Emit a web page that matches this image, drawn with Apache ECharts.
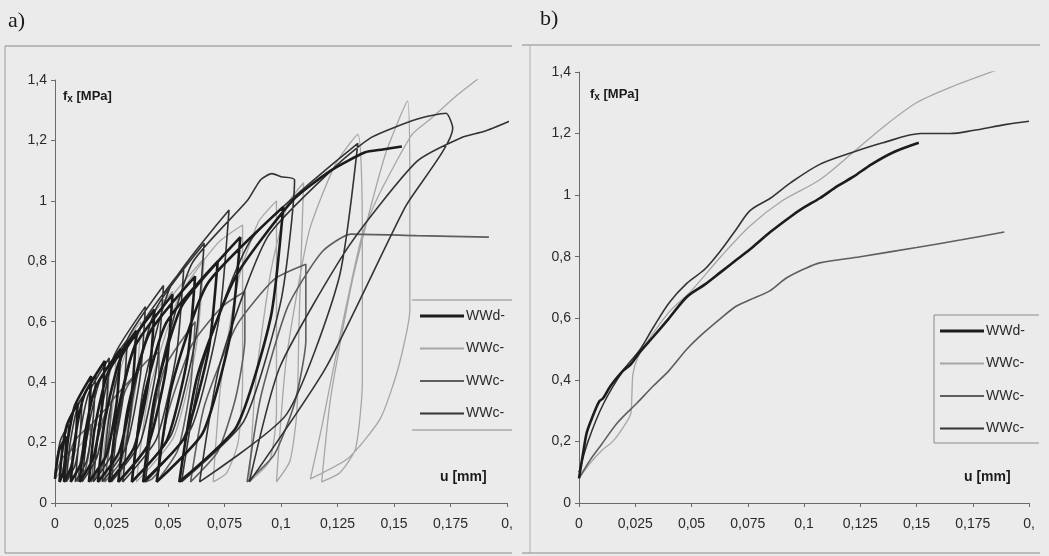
<!DOCTYPE html>
<html><head><meta charset="utf-8">
<script src="https://cdn.jsdelivr.net/npm/echarts@6/dist/echarts.min.js"></script>
<style>html,body{margin:0;padding:0;background:#ebebeb}#c{width:1049px;height:556px}</style>
</head><body><div id="c"></div>
<script>
// ---------- tick labels ----------
const xTickLabels = ['0','0,025','0,05','0,075','0,1','0,125','0,15','0,175','0,'];
const yTickLabels = ['0','0,2','0,4','0,6','0,8','1','1,2','1,4'];
const seriesNames = ['WWd-','WWc-','WWc- ','WWc-  '];

// ---------- panel a) cyclic loops [u mm, fx MPa] ----------
const aWWd = [
 [0,0.08],
 [0.0006,0.1225],[0.002,0.178],[0.005,0.22],[0.0046,0.16],[0.0036,0.10],[0.002,0.07],
 [0.003,0.161],[0.0052,0.257],[0.010,0.33],[0.0093,0.226],[0.0073,0.122],[0.004,0.07],
 [0.0054,0.1925],[0.0088,0.322],[0.016,0.42],[0.0149,0.28],[0.012,0.14],[0.007,0.07],
 [0.0088,0.21],[0.013,0.358],[0.022,0.47],[0.0207,0.31],[0.017,0.15],[0.011,0.07],
 [0.0132,0.224],[0.0182,0.387],[0.029,0.51],[0.0273,0.334],[0.0227,0.158],[0.015,0.07],
 [0.0175,0.245],[0.0234,0.43],[0.036,0.57],[0.034,0.37],[0.0284,0.17],[0.019,0.07],
 [0.022,0.2695],[0.029,0.48],[0.044,0.64],[0.0416,0.412],[0.035,0.184],[0.024,0.07],
 [0.0274,0.287],[0.0352,0.516],[0.052,0.69],[0.0491,0.442],[0.0412,0.194],[0.028,0.07],
 [0.0321,0.308],[0.0416,0.56],[0.062,0.75],[0.0586,0.478],[0.0494,0.206],[0.034,0.07],
 [0.0386,0.3255],[0.0492,0.596],[0.072,0.80],[0.068,0.508],[0.0572,0.216],[0.039,0.07],
 [0.0442,0.3535],[0.0562,0.653],[0.082,0.88],[0.0776,0.556],[0.0654,0.232],[0.045,0.07],
 [0.0517,0.3885],[0.0674,0.725],[0.101,0.98],[0.0955,0.616],[0.0803,0.252],[0.055,0.07],
 [0.063,0.42],[0.080,0.75],[0.105,1.0],[0.122,1.1],[0.137,1.16],[0.145,1.17],[0.1535,1.18]
];
const aWWc1 = [
 [0,0.08],[0.006,0.14],[0.012,0.2],[0.020,0.27],[0.023,0.3],[0.024,0.42],[0.027,0.49],[0.0256,0.322],[0.0216,0.154],[0.015,0.07],
 [0.0178,0.2555],[0.0242,0.452],[0.038,0.60],[0.0358,0.388],[0.0299,0.176],[0.020,0.07],
 [0.0238,0.2905],[0.0328,0.524],[0.052,0.70],[0.0492,0.448],[0.0417,0.196],[0.029,0.07],
 [0.0334,0.329],[0.0438,0.603],[0.066,0.81],[0.0624,0.514],[0.0525,0.218],[0.036,0.07],
 [0.0416,0.3675],[0.0548,0.682],[0.072,0.86],[0.083,0.92],[0.083,0.4],[0.081,0.2],[0.076,0.1],[0.070,0.07],
 [0.0734,0.3955],[0.0812,0.74],[0.090,0.93],[0.098,1.0],[0.098,0.3],[0.095,0.14],[0.086,0.07],
 [0.0889,0.41],[0.0956,0.77],[0.103,0.99],[0.110,1.06],[0.108,0.6],[0.107,0.3],[0.104,0.14],[0.098,0.07],
 [0.1023,0.4725],[0.1124,0.898],[0.124,1.12],[0.134,1.22],[0.136,0.9],[0.136,0.4],[0.133,0.18],[0.126,0.1],[0.118,0.07],
 [0.122,0.35],[0.132,0.75],[0.146,1.15],[0.156,1.33],[0.157,1.05],[0.157,0.64],[0.152,0.45],[0.144,0.28],[0.130,0.15],[0.113,0.08],
 [0.118,0.25],[0.126,0.55],[0.136,0.89],[0.144,1.03],[0.158,1.22],[0.166,1.27],[0.178,1.35],[0.190,1.42]
];
const aWWc2 = [
 [0,0.08],
 [0.001,0.1085],[0.0032,0.149],[0.008,0.18],[0.0075,0.136],[0.0062,0.092],[0.004,0.07],
 [0.0054,0.1365],[0.0088,0.207],[0.016,0.26],[0.0153,0.184],[0.0133,0.108],[0.010,0.07],
 [0.0118,0.161],[0.016,0.257],[0.025,0.33],[0.0239,0.226],[0.021,0.122],[0.016,0.07],
 [0.0183,0.1925],[0.0236,0.322],[0.035,0.42],[0.0334,0.28],[0.0292,0.14],[0.022,0.07],
 [0.0249,0.22],[0.0316,0.38],[0.040,0.465],[0.046,0.50],[0.046,0.3],[0.046,0.11],[0.043,0.08],[0.040,0.07],
 [0.0426,0.2555],[0.0488,0.452],[0.062,0.60],[0.060,0.388],[0.0544,0.176],[0.045,0.07],
 [0.0497,0.29],[0.0606,0.524],[0.074,0.65],[0.084,0.70],[0.084,0.54],[0.080,0.35],[0.072,0.17],[0.060,0.07],
 [0.0661,0.322],[0.0804,0.588],[0.097,0.74],[0.111,0.79],[0.111,0.54],[0.106,0.33],[0.097,0.16],[0.085,0.07],
 [0.091,0.35],[0.103,0.65],[0.118,0.83],[0.131,0.89],[0.160,0.885],[0.192,0.88]
];
const aWWc3 = [
 [0,0.08],
 [0.0007,0.137],[0.0024,0.207],[0.006,0.26],[0.0055,0.184],[0.0042,0.108],[0.002,0.07],
 [0.0032,0.168],[0.006,0.272],[0.012,0.35],[0.0112,0.238],[0.0089,0.126],[0.005,0.07],
 [0.0066,0.1925],[0.0102,0.322],[0.018,0.42],[0.0169,0.28],[0.014,0.14],[0.009,0.07],
 [0.0108,0.2135],[0.015,0.365],[0.024,0.48],[0.0226,0.316],[0.0186,0.152],[0.012,0.07],
 [0.0144,0.2345],[0.020,0.408],[0.032,0.54],[0.0302,0.352],[0.0253,0.164],[0.017,0.07],
 [0.0198,0.273],[0.0262,0.488],[0.040,0.65],[0.0377,0.418],[0.0315,0.186],[0.021,0.07],
 [0.0242,0.2975],[0.0318,0.538],[0.048,0.72],[0.0452,0.46],[0.0377,0.2],[0.025,0.07],
 [0.0288,0.3185],[0.0378,0.581],[0.057,0.78],[0.0538,0.496],[0.0449,0.212],[0.030,0.07],
 [0.0343,0.3465],[0.0444,0.639],[0.066,0.86],[0.0622,0.544],[0.0516,0.228],[0.034,0.07],
 [0.0392,0.385],[0.0512,0.718],[0.077,0.97],[0.0726,0.61],[0.0604,0.25],[0.040,0.07],
 [0.0461,0.42],[0.0604,0.79],[0.085,1.0],[0.091,1.07],[0.096,1.09],[0.100,1.08],[0.106,1.07],[0.100,0.67],[0.0835,0.27],[0.056,0.07],
 [0.0654,0.462],[0.0872,0.876],[0.134,1.19],[0.1256,0.742],[0.1025,0.294],[0.064,0.07],
 [0.073,0.46],[0.094,0.88],[0.125,1.12],[0.140,1.21],[0.160,1.27],[0.173,1.29],[0.176,1.24],[0.155,0.98],[0.120,0.45],[0.086,0.07],
 [0.0995,0.45],[0.130,0.85],[0.160,1.13],[0.180,1.21],[0.190,1.23],[0.203,1.27]
];

// ---------- panel b) envelopes ----------
const bWWd = [[0,0.08],[0.002,0.17],[0.0035,0.23],[0.006,0.28],[0.009,0.33],[0.0107,0.34],[0.014,0.38],[0.0196,0.43],[0.023,0.45],[0.027,0.49],[0.033,0.54],[0.040,0.6],[0.048,0.67],[0.056,0.71],[0.063,0.75],[0.070,0.79],[0.077,0.83],[0.085,0.88],[0.094,0.93],[0.100,0.96],[0.107,0.99],[0.115,1.03],[0.122,1.06],[0.130,1.1],[0.140,1.14],[0.151,1.17]];
const bWWc1 = [[0,0.08],[0.005,0.13],[0.010,0.17],[0.015,0.2],[0.020,0.25],[0.023,0.29],[0.0235,0.35],[0.024,0.42],[0.026,0.47],[0.030,0.52],[0.040,0.62],[0.050,0.69],[0.063,0.8],[0.076,0.9],[0.090,0.98],[0.107,1.05],[0.122,1.14],[0.135,1.22],[0.150,1.3],[0.165,1.35],[0.187,1.41]];
const bWWc2 = [[0,0.08],[0.005,0.14],[0.010,0.19],[0.017,0.26],[0.0258,0.325],[0.033,0.38],[0.040,0.43],[0.048,0.5],[0.055,0.55],[0.063,0.6],[0.070,0.64],[0.076,0.66],[0.085,0.69],[0.092,0.73],[0.100,0.76],[0.107,0.78],[0.125,0.8],[0.150,0.83],[0.170,0.855],[0.189,0.88]];
const bWWc3 = [[0,0.1],[0.004,0.2],[0.0107,0.32],[0.0196,0.43],[0.027,0.497],[0.033,0.57],[0.040,0.65],[0.048,0.714],[0.056,0.76],[0.063,0.82],[0.070,0.89],[0.076,0.95],[0.085,0.99],[0.094,1.04],[0.107,1.1],[0.122,1.14],[0.135,1.17],[0.152,1.2],[0.165,1.2],[0.175,1.21],[0.190,1.23],[0.200,1.24]];

// ---------- styles ----------
const colors = ['#1c1c1c','#a6a6a6','#5e5e5e','#343434'];
const widths = [2.6,1.3,1.6,1.6];
const font = 'Liberation Sans, Arial, sans-serif';

function xAxisDef(gi){
  return {gridIndex:gi,type:'value',min:0,max:0.2,interval:0.025,
    axisLine:{show:true,onZero:false,lineStyle:{color:'#6a6a6a',width:1}},
    axisTick:{show:true,length:4,lineStyle:{color:'#6a6a6a'}},
    splitLine:{show:false},
    axisLabel:{color:'#2a2a2a',fontSize:14,fontFamily:font,margin:14,
      formatter:(v)=>xTickLabels[Math.round(v/0.025)]}};
}
function yAxisDef(gi){
  return {gridIndex:gi,type:'value',min:0,max:1.4,interval:0.2,
    axisLine:{show:true,lineStyle:{color:'#6a6a6a',width:1}},
    axisTick:{show:true,length:4,lineStyle:{color:'#6a6a6a'}},
    splitLine:{show:false},
    axisLabel:{color:'#2a2a2a',fontSize:14,fontFamily:font,margin:8,
      formatter:(v)=>yTickLabels[Math.round(v/0.2)]}};
}
function mk(name,data,idx,gi,smooth){
  return {name:name,type:'line',xAxisIndex:gi,yAxisIndex:gi,data:data,
    showSymbol:false,symbol:'none',smooth:smooth,animation:false,
    lineStyle:{color:colors[idx],width:widths[idx]},z:idx===0?5:(idx===1?2:3)};
}
const aData=[aWWd,aWWc1,aWWc2,aWWc3], bData=[bWWd,bWWc1,bWWc2,bWWc3];
const series=[];
[1,2,3,0].forEach(i=>series.push(mk(seriesNames[i],aData[i],i,0,0.2)));
[1,2,3,0].forEach(i=>series.push(mk(seriesNames[i],bData[i],i,1,0.3)));

function legendGraphic(x0,y0,dy,boxX,boxY,boxW,boxH,leftEdge){
  const st={stroke:'#8a8a8a',lineWidth:1};
  const g=[
    {type:'line',shape:{x1:boxX,y1:boxY,x2:boxX+boxW,y2:boxY},style:st},
    {type:'line',shape:{x1:boxX,y1:boxY+boxH,x2:boxX+boxW,y2:boxY+boxH},style:st}];
  if(leftEdge) g.push({type:'line',shape:{x1:boxX,y1:boxY,x2:boxX,y2:boxY+boxH},style:st});
  seriesNames.forEach((n,i)=>{
    const y=y0+i*dy;
    g.push({type:'line',shape:{x1:x0,y1:y,x2:x0+44,y2:y},style:{stroke:colors[i],lineWidth:widths[i]+0.6}});
    g.push({type:'text',x:x0+46,y:y,style:{text:n.trim(),fill:'#2a2a2a',font:'14px '+font,textVerticalAlign:'middle'}});
  });
  return g;
}
const graphics=[
  {type:'line',shape:{x1:5,y1:46,x2:512,y2:46},style:{stroke:'#8a8a8a',lineWidth:1}},
  {type:'line',shape:{x1:5,y1:46,x2:5,y2:553},style:{stroke:'#9a9a9a',lineWidth:1}},
  {type:'line',shape:{x1:5,y1:553,x2:512,y2:553},style:{stroke:'#8a8a8a',lineWidth:1}},
  {type:'line',shape:{x1:522,y1:45,x2:1040,y2:45},style:{stroke:'#8a8a8a',lineWidth:1}},
  {type:'line',shape:{x1:530,y1:45,x2:530,y2:553},style:{stroke:'#b0b0b0',lineWidth:1}},
  {type:'line',shape:{x1:522,y1:553,x2:1040,y2:553},style:{stroke:'#8a8a8a',lineWidth:1}},
  {type:'text',x:8,y:10,style:{text:'a)',fill:'#1a1a1a',font:'22px Liberation Serif, serif'}},
  {type:'text',x:540,y:8,style:{text:'b)',fill:'#1a1a1a',font:'22px Liberation Serif, serif'}},
  {type:'text',x:63,y:88,style:{rich:{a:{font:'bold 13px '+font,fill:'#1a1a1a'},s:{font:'bold 10px '+font,fill:'#1a1a1a',verticalAlign:'bottom',padding:[6,0,0,0]}},text:'{a|f}{s|x}{a| [MPa]}'}},
  {type:'text',x:590,y:86,style:{rich:{a:{font:'bold 13px '+font,fill:'#1a1a1a'},s:{font:'bold 10px '+font,fill:'#1a1a1a',verticalAlign:'bottom',padding:[6,0,0,0]}},text:'{a|f}{s|x}{a| [MPa]}'}},
  {type:'text',x:440,y:470,style:{text:'u [mm]',fill:'#1a1a1a',font:'bold 14px '+font}},
  {type:'text',x:964,y:470,style:{text:'u [mm]',fill:'#1a1a1a',font:'bold 14px '+font}}
].concat(legendGraphic(420,316,32.5,412,300,100,130,false)).concat(legendGraphic(940,331,32.5,934,315,105,128,true));

const chart=echarts.init(document.getElementById('c'),null,{renderer:'canvas'});
chart.setOption({
  backgroundColor:'#ebebeb',animation:false,
  grid:[{left:55,top:80,width:452,height:423},{left:579,top:72,width:450,height:431}],
  xAxis:[xAxisDef(0),xAxisDef(1)],
  yAxis:[yAxisDef(0),yAxisDef(1)],
  series:series,
  graphic:graphics
});
</script></body></html>
